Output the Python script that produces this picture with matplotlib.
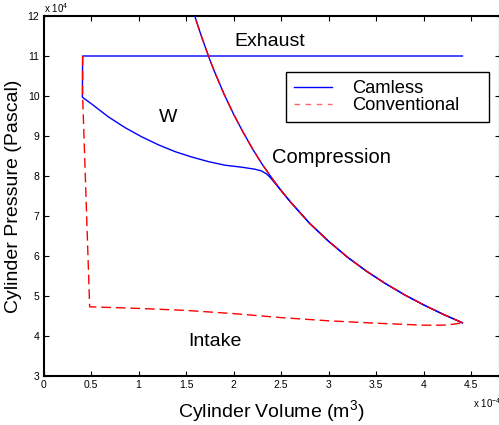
import matplotlib
matplotlib.use("Agg")
import matplotlib.pyplot as plt

plt.rcParams['font.family'] = ['Liberation Sans', 'DejaVu Sans']
plt.rcParams['mathtext.fontset'] = 'custom'
plt.rcParams['mathtext.rm'] = 'Liberation Sans'
plt.rcParams['mathtext.it'] = 'Liberation Sans'

# ---- data (volume in 1e-4 m^3, pressure in 1e4 Pa) ----
# Camless cycle: exhaust (constant P), drop, throttled intake ("W"), compression
camless_v = [4.41, 0.412, 0.409, 0.507, 0.682, 0.858, 1.033, 1.209, 1.384, 1.56,
             1.735, 1.91, 2.086, 2.226, 2.296, 2.349, 2.384,
             2.5, 2.6, 2.8, 3.0, 3.2, 3.4, 3.6, 3.8, 4.0, 4.2, 4.41]
camless_p = [11.0, 11.0, 9.97, 9.80, 9.48, 9.21, 8.98, 8.78, 8.61, 8.475,
             8.36, 8.27, 8.22, 8.17, 8.125, 8.05, 7.97,
             7.64, 7.35, 6.82, 6.37, 5.97, 5.62, 5.31, 5.03, 4.78, 4.55, 4.33]
# compression curve (both engines follow it up past the top of the axes)
comp_v = [4.41, 4.2, 4.0, 3.8, 3.6, 3.4, 3.2, 3.0, 2.8, 2.6, 2.5, 2.4, 2.3, 2.2,
          2.1, 2.0, 1.9, 1.8, 1.75, 1.7, 1.65, 1.6, 1.55]
comp_p = [4.33, 4.55, 4.78, 5.03, 5.31, 5.62, 5.97, 6.37, 6.82, 7.35, 7.64, 7.96, 8.30, 8.68,
          9.10, 9.55, 10.05, 10.61, 10.91, 11.24, 11.58, 11.94, 12.32]

# Conventional cycle: exhaust end, blowdown, intake
conv_v = [0.412, 0.412, 0.45, 0.486, 1.0, 1.5, 2.0, 2.5, 3.0, 3.5, 3.8, 4.0, 4.2, 4.3, 4.41]
conv_p = [11.0, 10.0, 7.3, 4.73, 4.69, 4.64, 4.56, 4.46, 4.38, 4.32, 4.29, 4.27, 4.27, 4.29, 4.33]

xticks = [0, 0.5, 1, 1.5, 2, 2.5, 3, 3.5, 4, 4.5]
xtick_labels = ['0', '0.5', '1', '1.5', '2', '2.5', '3', '3.5', '4', '4.5']
yticks = [3, 4, 5, 6, 7, 8, 9, 10, 11, 12]
ytick_labels = ['3', '4', '5', '6', '7', '8', '9', '10', '11', '12']

annotations = [("Exhaust", 2.38, 11.35), ("W", 1.31, 9.45),
               ("Compression", 3.03, 8.47), ("Intake", 1.80, 3.85)]

fig = plt.figure(figsize=(4.99, 4.25), dpi=100)
ax = fig.add_axes([43.5 / 499, 1 - 376 / 425, (499.5 - 43.5) / 499, (376 - 16) / 425])

blue = '#0000ff'
red = '#ff0000'
dash = (0, (7, 3.5))

ax.plot(camless_v, camless_p, color=blue, lw=1.0, zorder=3)
ax.plot(comp_v, comp_p, color=blue, lw=1.0, zorder=3)
l1, = ax.plot([], [], color=blue, lw=1.0, label='Camless')
ax.plot(conv_v, conv_p, color=red, lw=1.0, linestyle=dash, zorder=4)
ax.plot(comp_v, comp_p, color=red, lw=1.0, linestyle=dash, zorder=4)
l2, = ax.plot([], [], color=red, lw=1.0, linestyle=(0, (4, 4)), label='Conventional', alpha=0.6)

for txt, x, y in annotations:
    fs = 14.5 if txt == "Compression" else 14
    ax.text(x, y, txt, fontsize=fs, ha='center', va='center', zorder=5)

ax.set_xlim(0, 4.8)
ax.set_ylim(3, 12)
ax.set_xticks(xticks)
ax.set_xticklabels(xtick_labels)
ax.set_yticks(yticks)
ax.set_yticklabels(ytick_labels)
ax.tick_params(direction='in', length=3.5, width=0.8, labelsize=7.5, top=True, right=True,
               pad=3)
for s in ax.spines.values():
    s.set_linewidth(1.5)

ax.set_xlabel('Cylinder Volume (m$^3$)', fontsize=14, labelpad=6)
ax.set_ylabel('Cylinder Pressure (Pascal)', fontsize=14, labelpad=4)

fig.text(44 / 499, 1 - 8 / 425, r'x 10$^4$', fontsize=7, ha='left', va='center')
fig.text(473 / 499, 1 - 403 / 425, r'x 10$^{-4}$', fontsize=7, ha='left', va='center')

leg = ax.legend(handles=[l1, l2], loc='upper left',
                bbox_to_anchor=((286 - 43.5) / 456, (376 - 72.3) / 360,
                                (489 - 286) / 456, 0.0),
                mode='expand', fontsize=13.2, frameon=True, fancybox=False,
                edgecolor='black', framealpha=1, labelspacing=0.0,
                handlelength=2.1, handletextpad=1.1, borderpad=0.42,
                borderaxespad=0)
leg.get_frame().set_linewidth(1.0)

fig.savefig('out.png', dpi=100)
